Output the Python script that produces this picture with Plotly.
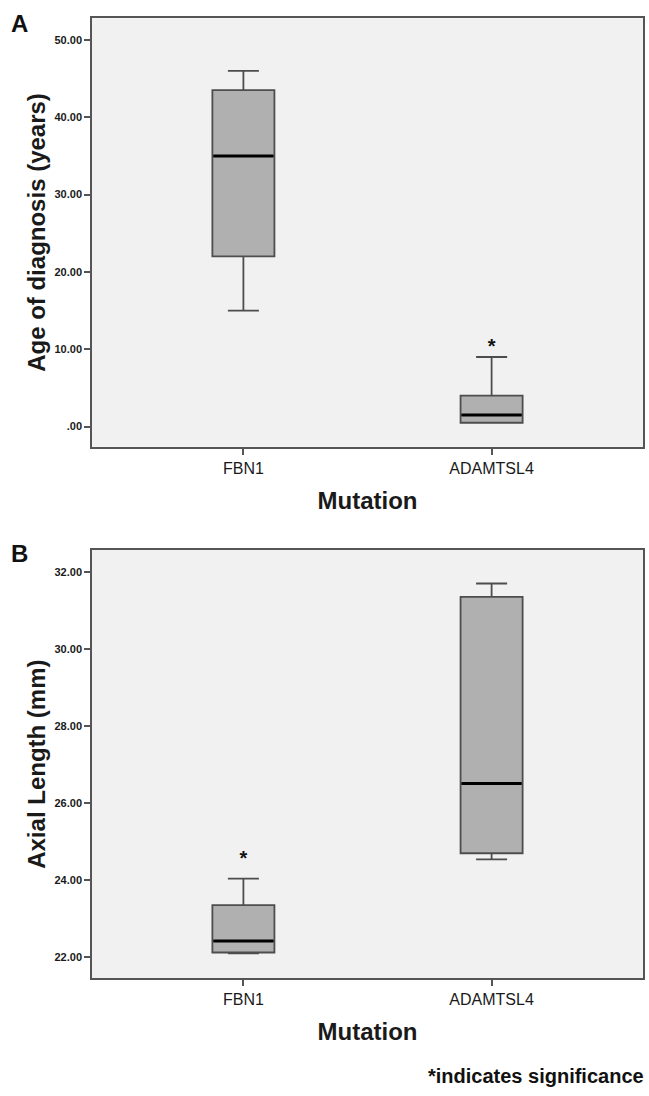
import plotly.graph_objects as go

# ---------------- data ----------------
categories = ["FBN1", "ADAMTSL4"]
positions = [0, 1]

# Panel A: Age of diagnosis (years)
age_lower = [15.0, 0.5]
age_q1 = [22.0, 0.5]
age_median = [35.0, 1.5]
age_q3 = [43.5, 4.0]
age_upper = [46.0, 9.0]
age_star = [None, 10.1]
age_tickvals = [0, 10, 20, 30, 40, 50]
age_ticktext = [".00", "10.00", "20.00", "30.00", "40.00", "50.00"]

# Panel B: Axial Length (mm)
axl_lower = [22.09, 24.53]
axl_q1 = [22.11, 24.69]
axl_median = [22.41, 26.50]
axl_q3 = [23.34, 31.35]
axl_upper = [24.03, 31.70]
axl_star = [24.52, None]
axl_tickvals = [22, 24, 26, 28, 30, 32]
axl_ticktext = ["22.00", "24.00", "26.00", "28.00", "30.00", "32.00"]

# ---------------- style ----------------
FONT = "Liberation Sans, Arial, sans-serif"
BOX_W = 0.25
BOX_FILL = "#b0b0b0"
BOX_LINE = "#4d4d4d"
PLOT_BG = "#f1f1f1"
AXIS_C = "#555555"
TXT = "#1a1a1a"

W, H = 649, 1096
x_dom = [92 / W, 643 / W]
yA_dom = [1 - 446.7 / H, 1 - 18.3 / H]
yB_dom = [1 - 978.3 / H, 1 - 550 / H]

fig = go.Figure()


def add_panel(xa, ya, lower, q1, med, q3, upper, stars):
    fig.add_trace(go.Box(
        x=positions, lowerfence=lower, q1=q1, median=med, q3=q3, upperfence=upper,
        width=BOX_W, whiskerwidth=0.5, fillcolor=BOX_FILL,
        line=dict(color=BOX_LINE, width=1.8), boxpoints=False,
        xaxis=xa, yaxis=ya, showlegend=False, hoverinfo="skip",
    ))
    for p, m in zip(positions, med):
        fig.add_trace(go.Scatter(
            x=[p - BOX_W / 2 + 0.004, p + BOX_W / 2 - 0.004], y=[m, m], mode="lines",
            line=dict(color="#000000", width=3), xaxis=xa, yaxis=ya,
            showlegend=False, hoverinfo="skip",
        ))
    sx = [p for p, s in zip(positions, stars) if s is not None]
    sy = [s for s in stars if s is not None]
    fig.add_trace(go.Scatter(
        x=sx, y=sy, mode="text", text=["<b>*</b>"] * len(sx), textposition="middle center",
        textfont=dict(family=FONT, size=20, color="#111111"),
        xaxis=xa, yaxis=ya, showlegend=False, hoverinfo="skip",
    ))


add_panel("x", "y", age_lower, age_q1, age_median, age_q3, age_upper, age_star)
add_panel("x2", "y2", axl_lower, axl_q1, axl_median, axl_q3, axl_upper, axl_star)

xcommon = dict(
    range=[-0.61, 1.61], tickvals=positions, ticktext=categories,
    showline=True, mirror=True, linecolor=AXIS_C, linewidth=1.6,
    ticks="outside", ticklen=6, tickcolor=AXIS_C, tickwidth=1.5,
    showgrid=False, zeroline=False, automargin=False,
    tickfont=dict(family=FONT, size=16, color=TXT),
    title=dict(text="<b>Mutation</b>", font=dict(family=FONT, size=24, color=TXT), standoff=16),
)
ycommon = dict(
    showline=True, mirror=True, linecolor=AXIS_C, linewidth=1.6,
    ticks="outside", ticklen=6, tickcolor=AXIS_C, tickwidth=1.5,
    showgrid=False, zeroline=False, automargin=False,
    tickfont=dict(family=FONT, size=11, color=TXT, weight="bold"),
)

annotations = [
    dict(text="<b>A</b>", x=19.5 / W, y=1 - 23.3 / H, xref="paper", yref="paper",
         xanchor="center", yanchor="middle", showarrow=False,
         font=dict(family=FONT, size=24, color="#111111")),
    dict(text="<b>B</b>", x=19.5 / W, y=1 - 553 / H, xref="paper", yref="paper",
         xanchor="center", yanchor="middle", showarrow=False,
         font=dict(family=FONT, size=24, color="#111111")),
    dict(text="<b>*indicates significance</b>", x=646 / W, y=1 - 1076 / H, xref="paper", yref="paper",
         xanchor="right", yanchor="middle", showarrow=False,
         font=dict(family=FONT, size=20, color="#111111")),
]

fig.update_layout(
    width=W, height=H,
    margin=dict(l=0, r=0, t=0, b=0),
    paper_bgcolor="#ffffff", plot_bgcolor=PLOT_BG,
    xaxis=dict(domain=x_dom, anchor="y", **xcommon),
    xaxis2=dict(domain=x_dom, anchor="y2", **xcommon),
    yaxis=dict(domain=yA_dom, anchor="x", range=[-2.6, 52.8],
               tickvals=age_tickvals, ticktext=age_ticktext,
               title=dict(text="<b>Age of diagnosis (years)</b>",
                          font=dict(family=FONT, size=24, color=TXT), standoff=2),
               **ycommon),
    yaxis2=dict(domain=yB_dom, anchor="x2", range=[21.44, 32.57],
                tickvals=axl_tickvals, ticktext=axl_ticktext,
                title=dict(text="<b>Axial Length (mm)</b>",
                           font=dict(family=FONT, size=24, color=TXT), standoff=2),
                **ycommon),
    annotations=annotations,
)

# remove the browser's default page margin so the 649x1096 figure fills the window exactly
fig.write_html(
    "out.html",
    config={"displayModeBar": False},
    post_script="document.body.style.margin='0px';document.body.style.overflow='hidden';",
)
